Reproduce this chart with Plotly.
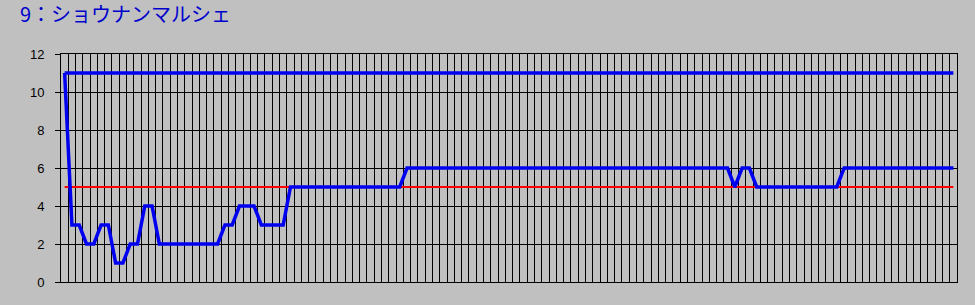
import plotly.graph_objects as go

title_text = "9：ショウナンマルシェ"

# race index (123 categories)
races = list(range(123))

# varying rank series
rank = [11, 3, 3, 2, 2, 3, 3, 1, 1, 2, 2, 4, 4,
        2, 2, 2, 2, 2, 2, 2, 2, 2,
        3, 3,
        4, 4, 4,
        3, 3, 3, 3,
        5, 5, 5, 5, 5, 5, 5, 5, 5, 5, 5, 5, 5, 5, 5, 5,
        6, 6, 6, 6, 6, 6, 6, 6, 6, 6, 6, 6, 6, 6, 6, 6, 6, 6, 6, 6, 6, 6, 6,
        6, 6, 6, 6, 6, 6, 6, 6, 6, 6, 6, 6, 6, 6, 6, 6, 6, 6, 6, 6, 6, 6,
        5,
        6, 6,
        5, 5, 5, 5, 5, 5, 5, 5, 5, 5, 5, 5,
        6, 6, 6, 6, 6, 6, 6, 6, 6, 6, 6, 6, 6, 6, 6, 6]

# field size series (constant)
field = [11, 11, 11, 11, 11, 11, 11, 11, 11, 11, 11, 11, 11, 11, 11, 11, 11, 11, 11, 11,
         11, 11, 11, 11, 11, 11, 11, 11, 11, 11, 11, 11, 11, 11, 11, 11, 11, 11, 11, 11,
         11, 11, 11, 11, 11, 11, 11, 11, 11, 11, 11, 11, 11, 11, 11, 11, 11, 11, 11, 11,
         11, 11, 11, 11, 11, 11, 11, 11, 11, 11, 11, 11, 11, 11, 11, 11, 11, 11, 11, 11,
         11, 11, 11, 11, 11, 11, 11, 11, 11, 11, 11, 11, 11, 11, 11, 11, 11, 11, 11, 11,
         11, 11, 11, 11, 11, 11, 11, 11, 11, 11, 11, 11, 11, 11, 11, 11, 11, 11, 11, 11,
         11, 11, 11]

# reference line series (constant)
ref = [5, 5, 5, 5, 5, 5, 5, 5, 5, 5, 5, 5, 5, 5, 5, 5, 5, 5, 5, 5,
       5, 5, 5, 5, 5, 5, 5, 5, 5, 5, 5, 5, 5, 5, 5, 5, 5, 5, 5, 5,
       5, 5, 5, 5, 5, 5, 5, 5, 5, 5, 5, 5, 5, 5, 5, 5, 5, 5, 5, 5,
       5, 5, 5, 5, 5, 5, 5, 5, 5, 5, 5, 5, 5, 5, 5, 5, 5, 5, 5, 5,
       5, 5, 5, 5, 5, 5, 5, 5, 5, 5, 5, 5, 5, 5, 5, 5, 5, 5, 5, 5,
       5, 5, 5, 5, 5, 5, 5, 5, 5, 5, 5, 5, 5, 5, 5, 5, 5, 5, 5, 5,
       5, 5, 5]

y_ticks = [0, 2, 4, 6, 8, 10, 12]

fig = go.Figure()
fig.add_trace(go.Scatter(x=races, y=ref, mode="lines",
                         line=dict(color="#FF0000", width=2), hoverinfo="skip"))
fig.add_trace(go.Scatter(x=races, y=field, mode="lines",
                         line=dict(color="#0000F0", width=3.5), hoverinfo="skip"))
fig.add_trace(go.Scatter(x=races, y=rank, mode="lines",
                         line=dict(color="#0000F0", width=3.5), hoverinfo="skip"))

fig.update_layout(
    width=975, height=305,
    margin=dict(l=61, r=18, t=54, b=23),
    paper_bgcolor="#C0C0C0", plot_bgcolor="#C0C0C0",
    showlegend=False,
    hovermode=False,
    title=dict(text=title_text, x=20 / 975, xanchor="left", xref="container",
               y=1 - 15 / 305, yanchor="middle", yref="container",
               font=dict(family="Noto Sans CJK JP", size=20, color="#0000CC")),
    xaxis=dict(range=[-0.5, 122.5], tick0=-0.5, dtick=1, showgrid=True,
               gridcolor="black", gridwidth=1, showticklabels=False, ticks="",
               zeroline=False, showline=True, mirror=True, linecolor="black",
               linewidth=1, fixedrange=True),
    yaxis=dict(range=[0, 12], tickvals=y_ticks, showgrid=True, gridcolor="black",
               gridwidth=1, zeroline=False, showline=True, mirror=True,
               linecolor="black", linewidth=1, ticks="outside", ticklen=5,
               tickcolor="black", ticklabelstandoff=8,
               tickfont=dict(family="Liberation Sans", size=13, color="black"),
               fixedrange=True),
)

fig.write_html("out.html", config=dict(displayModeBar=False, staticPlot=True))
